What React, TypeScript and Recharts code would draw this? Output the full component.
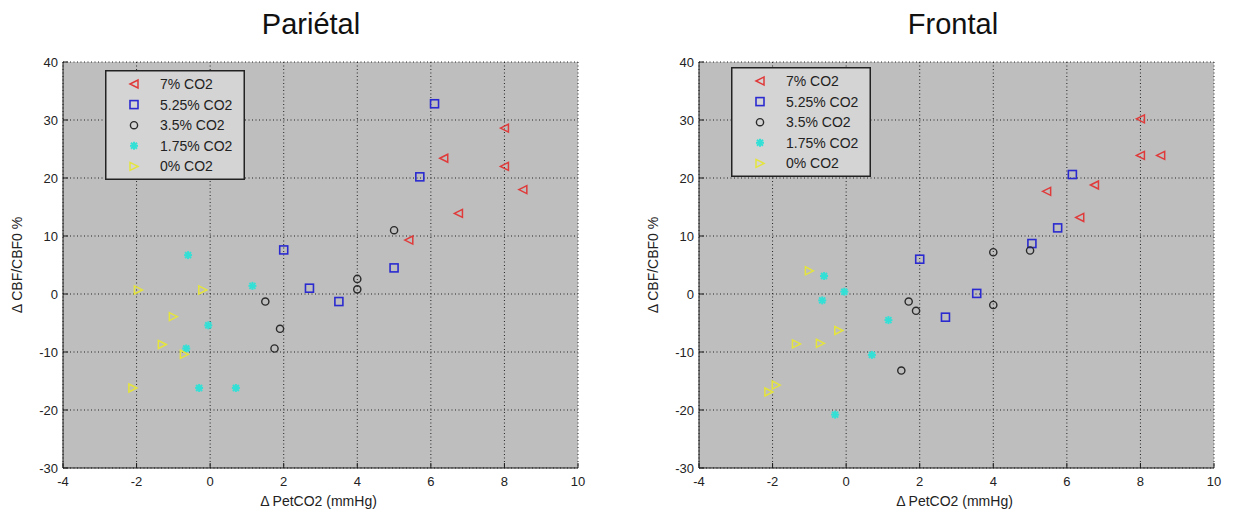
import React from "react";
import { ScatterChart, Scatter, XAxis, YAxis, CartesianGrid, Label, Legend } from "recharts";

// tick values
const X_TICKS = [-4, -2, 0, 2, 4, 6, 8, 10];
const Y_TICKS = [-30, -20, -10, 0, 10, 20, 30, 40];

const SERIES_NAMES = ["7% CO2", "5.25% CO2", "3.5% CO2", "1.75% CO2", "0% CO2"];

// Pariétal, [ΔPetCO2, ΔCBF/CBF0]
const parietal7 = [[5.4, 9.3], [6.35, 23.4], [6.75, 13.9], [8, 28.6], [8, 22], [8.5, 18]];
const parietal525 = [[2, 7.6], [2.7, 1], [3.5, -1.3], [5, 4.5], [5.7, 20.2], [6.1, 32.8]];
const parietal35 = [[1.5, -1.3], [1.75, -9.4], [1.9, -6], [4, 0.8], [4, 2.6], [5, 11]];
const parietal175 = [[-0.6, 6.7], [-0.65, -9.4], [-0.3, -16.2], [-0.05, -5.4], [0.7, -16.2], [1.15, 1.4]];
const parietal0 = [[-2.1, -16.2], [-1.95, 0.7], [-1.3, -8.7], [-1, -3.9], [-0.7, -10.4], [-0.2, 0.7]];

// Frontal
const frontal7 = [[5.45, 17.7], [6.35, 13.2], [6.75, 18.8], [8, 30.2], [8, 23.9], [8.55, 23.9]];
const frontal525 = [[2, 6], [2.7, -4], [3.55, 0.1], [5.05, 8.7], [5.75, 11.4], [6.15, 20.6]];
const frontal35 = [[1.5, -13.2], [1.7, -1.3], [1.9, -2.9], [4, -1.9], [4, 7.2], [5, 7.5]];
const frontal175 = [[-0.6, 3.1], [-0.65, -1.1], [-0.3, -20.8], [-0.05, 0.4], [0.7, -10.5], [1.15, -4.5]];
const frontal0 = [[-2.1, -16.9], [-1.9, -15.7], [-1.35, -8.6], [-1, 4], [-0.7, -8.5], [-0.2, -6.3]];

const MARKERS = ["triLeft", "square", "circle", "star", "triRight"];
const COLORS = ["#e03a3a", "#2a2ad0", "#2a2a2a", "#33e0d6", "#e4e43c"];

const FONT = "'Liberation Sans', Arial, sans-serif";

const toPts = (arr: number[][]) => arr.map(([x, y]) => ({ x, y }));

function Marker({ kind, cx, cy, color }: { kind: string; cx: number; cy: number; color: string }) {
  const s = 4;
  if (kind === "triLeft")
    return <polygon points={`${cx - s},${cy} ${cx + s},${cy - s} ${cx + s},${cy + s}`} fill="none" stroke={color} strokeWidth={1.5} />;
  if (kind === "triRight")
    return <polygon points={`${cx + s},${cy} ${cx - s},${cy - s} ${cx - s},${cy + s}`} fill="none" stroke={color} strokeWidth={1.5} />;
  if (kind === "square")
    return <rect x={cx - s} y={cy - s} width={2 * s} height={2 * s} fill="none" stroke={color} strokeWidth={1.6} />;
  if (kind === "circle") return <circle cx={cx} cy={cy} r={3.6} fill="none" stroke={color} strokeWidth={1.4} />;
  // matlab '*' marker, looks like a blob after jpeg
  return (
    <g stroke={color} strokeWidth={2}>
      <line x1={cx - s} y1={cy} x2={cx + s} y2={cy} />
      <line x1={cx} y1={cy - s} x2={cx} y2={cy + s} />
      <line x1={cx - 3} y1={cy - 3} x2={cx + 3} y2={cy + 3} />
      <line x1={cx - 3} y1={cy + 3} x2={cx + 3} y2={cy - 3} />
    </g>
  );
}

const XTick = (props: any) => {
  const { x, y, payload } = props;
  return (
    <g>
      <line x1={x} x2={x} y1={y} y2={y - 5} stroke="#1a1a1a" />
      <text x={x} y={y + 18} textAnchor="middle" fontSize={13} fontFamily={FONT} fill="#222">
        {payload.value}
      </text>
    </g>
  );
};

const YTick = (props: any) => {
  const { x, y, payload } = props;
  return (
    <g>
      <line x1={x} x2={x + 5} y1={y} y2={y} stroke="#1a1a1a" />
      <text x={x - 5} y={y + 5} textAnchor="end" fontSize={13} fontFamily={FONT} fill="#222">
        {payload.value}
      </text>
    </g>
  );
};

const XLabel = (props: any) => {
  const { x, width } = props.viewBox;
  return (
    <text x={x + width / 2 - 2} y={506} textAnchor="middle" fontSize={14} fontFamily={FONT} fill="#222">
      Δ PetCO2 (mmHg)
    </text>
  );
};

const YLabel = (props: any) => {
  const { y, height } = props.viewBox;
  const cy = y + height / 2;
  return (
    <text x={17} y={cy} transform={`rotate(-90 17 ${cy})`} textAnchor="middle" dominantBaseline="central" fontSize={14} fontFamily={FONT} fill="#222">
      Δ CBF/CBF0 %
    </text>
  );
};

const LegendBox = () => (
  <svg width={140} height={110} style={{ display: "block" }}>
    <rect x={0.75} y={0.75} width={138.5} height={108.5} fill="#d4d4d4" stroke="#222" strokeWidth={1.5} />
    {SERIES_NAMES.map((name, i) => (
      <g key={name}>
        <Marker kind={MARKERS[i]} cx={29} cy={14 + i * 20.6} color={COLORS[i]} />
        <text x={55} y={14 + i * 20.6 + 5} fontSize={14} fontFamily={FONT} fill="#222">
          {name}
        </text>
      </g>
    ))}
  </svg>
);

function Panel({ left, series, legendLeft, legendTop }: { left: number; series: number[][][]; legendLeft: number; legendTop: number }) {
  return (
    <div style={{ position: "absolute", left, top: 0 }}>
      <ScatterChart width={616} height={514} margin={{ top: 62, right: 38, left: 0, bottom: 0 }}>
        <CartesianGrid stroke="#222" strokeDasharray="1 2.5" fill="#bebebe" fillOpacity={1} />
        <XAxis
          type="number"
          dataKey="x"
          domain={[-4, 10]}
          ticks={X_TICKS}
          interval={0}
          height={46}
          tickSize={0}
          tickMargin={0}
          tickLine={false}
          tick={XTick}
          axisLine={{ stroke: "#1a1a1a" }}
          allowDataOverflow
        >
          <Label content={XLabel} />
        </XAxis>
        <YAxis
          type="number"
          dataKey="y"
          domain={[-30, 40]}
          ticks={Y_TICKS}
          interval={0}
          width={63}
          tickSize={0}
          tickMargin={0}
          tickLine={false}
          tick={YTick}
          axisLine={{ stroke: "#1a1a1a" }}
          allowDataOverflow
        >
          <Label content={YLabel} />
        </YAxis>
        <Legend
          layout="vertical"
          align="center"
          verticalAlign="middle"
          content={LegendBox}
          wrapperStyle={{ left: legendLeft, top: legendTop, width: 140, height: 110 }}
        />
        {series.map((pts, i) => (
          <Scatter
            key={SERIES_NAMES[i]}
            name={SERIES_NAMES[i]}
            data={toPts(pts)}
            fill={COLORS[i]}
            isAnimationActive={false}
            shape={(p: any) => <Marker kind={MARKERS[i]} cx={p.cx} cy={p.cy} color={COLORS[i]} />}
          />
        ))}
      </ScatterChart>
    </div>
  );
}

const titleStyle: React.CSSProperties = {
  position: "absolute",
  top: 10,
  transform: "translateX(-50%)",
  fontFamily: FONT,
  fontSize: 29,
  lineHeight: "29px",
  color: "#111",
  whiteSpace: "nowrap",
};

export default function App() {
  return (
    <div style={{ position: "absolute", left: 0, top: 0, width: 1233, height: 514, background: "#fff", overflow: "hidden" }}>
      <div style={{ ...titleStyle, left: 311 }}>Pariétal</div>
      <div style={{ ...titleStyle, left: 953 }}>Frontal</div>
      <Panel
        left={0}
        series={[parietal7, parietal525, parietal35, parietal175, parietal0]}
        legendLeft={105}
        legendTop={70}
      />
      <Panel
        left={636}
        series={[frontal7, frontal525, frontal35, frontal175, frontal0]}
        legendLeft={95}
        legendTop={67}
      />
    </div>
  );
}
